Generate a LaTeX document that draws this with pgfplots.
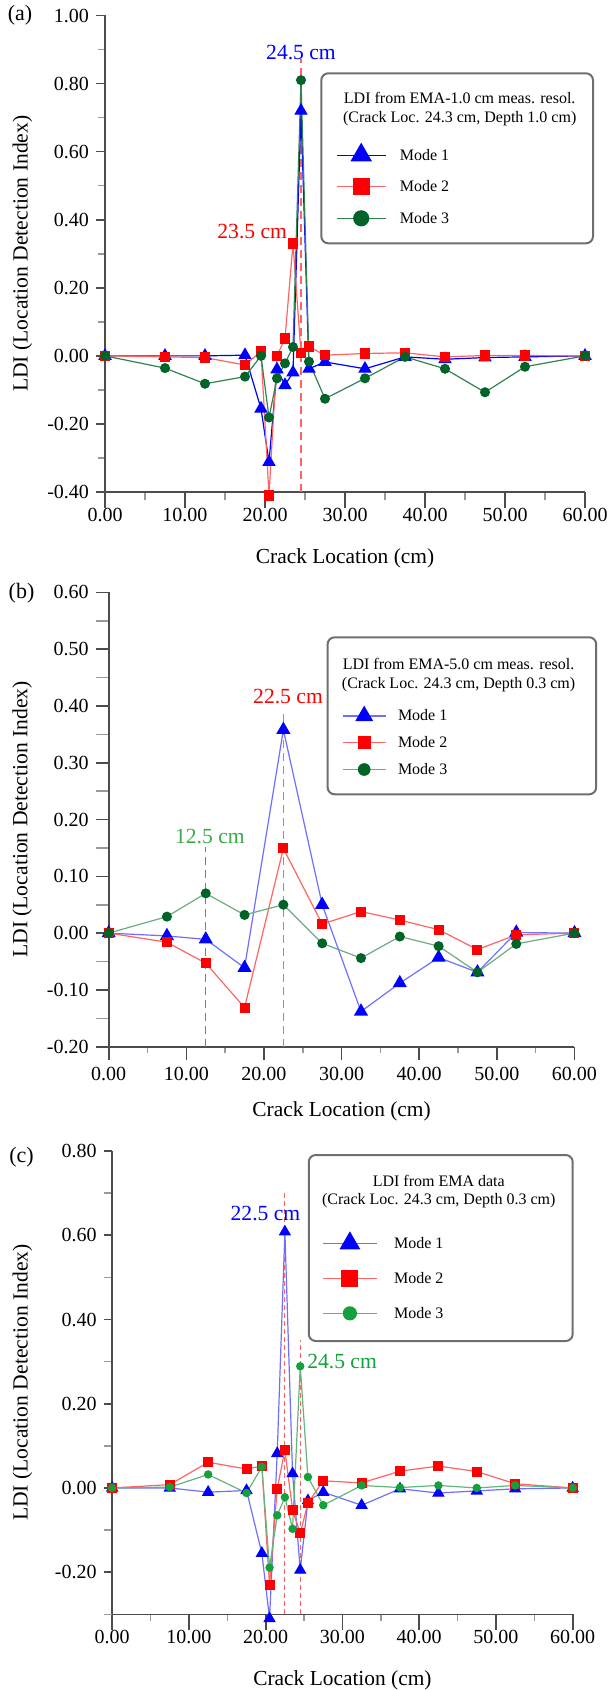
\documentclass[border=0pt]{standalone}
\usepackage{fontspec}
\setmainfont{Liberation Serif}
\usepackage{pgfplots}
\pgfplotsset{compat=1.18}

\definecolor{mblue}{RGB}{0,0,255}
\definecolor{lblue}{RGB}{110,110,255}
\definecolor{mred}{RGB}{255,0,0}
\definecolor{lred}{RGB}{255,100,100}
\definecolor{dgreen}{RGB}{0,100,40}
\definecolor{agreen}{RGB}{50,130,80}
\definecolor{bgreen}{RGB}{110,170,130}
\definecolor{cgreenm}{RGB}{20,160,60}
\definecolor{cgreenl}{RGB}{100,180,125}
\definecolor{dashred}{RGB}{255,100,100}
\definecolor{dashgreen}{RGB}{60,170,70}
\definecolor{boxgray}{RGB}{110,110,110}

\newcommand{\fs}[1]{\fontsize{#1}{1.15\dimexpr#1\relax}\selectfont}

\pgfplotsset{
  ldi/.style={
    scale only axis, clip=false,
    xmin=0, xmax=60,
    axis x line*=bottom, axis y line*=left,
    tick align=outside,
    axis line style={draw=black!70, line width=0.8pt},
    major tick style={draw=black!70, line width=0.8pt},
    minor tick style={draw=black!40, line width=0.8pt},
    xtick={0,10,...,60}, minor xtick={5,15,...,55},
    xticklabels={0.00,10.00,20.00,30.00,40.00,50.00,60.00},
    tick label style={font=\fs{10pt}},
    xlabel={Crack Location (cm)},
    ylabel={LDI (Location Detection Index)},
    legend cell align=left,
  },
  mode line/.style={line width=0.6pt},
}

\begin{document}
\begin{tikzpicture}
\useasboundingbox (0,0) rectangle (306.5pt,-845pt);

% ---------------- (a) ----------------
\node[font=\fs{11pt}] at (10pt,-7.5pt) {(a)};
\begin{axis}[ldi,
  at={(52.5pt,-246pt)}, anchor=south west,
  width=240pt, height=238.25pt,
  ymin=-0.4, ymax=1.0,
  ytick={-0.4,-0.2,0,0.2,0.4,0.6,0.8,1.0},
  yticklabels={-0.40,-0.20,0.00,0.20,0.40,0.60,0.80,1.00},
  minor ytick={-0.3,-0.1,0.1,0.3,0.5,0.7,0.9},
  major tick length=4.5pt, minor tick length=3.5pt,
  xtick style={/pgfplots/major tick length=8pt,/pgfplots/minor tick length=4pt},
  xlabel style={at={(axis description cs:0.5,-0.1385)}, anchor=center, font=\fs{10.7pt}},
  ylabel style={at={(axis description cs:-0.1719,0.5)}, anchor=center, font=\fs{10.8pt}},
  legend style={at={(rel axis cs:0.4817,0.6407)}, anchor=west, draw=none, fill=none,
    inner sep=0pt, outer sep=0pt, row sep=0pt, column sep=6.85pt, font=\fs{8pt},
    nodes={inner xsep=0pt, inner ysep=4.4pt, text height=6pt, text depth=1pt}},
  legend image code/.code={\draw[mark repeat=2,mark phase=2,every mark/.append style={scale=1.7}]
    plot coordinates {(0pt,0pt) (12.2pt,0pt) (24.4pt,0pt)};},
]
\addplot[dashred, line width=0.7pt, dash pattern=on 4pt off 2.5pt, forget plot]
  coordinates {(24.5,-0.4) (24.5,0.871)};
\addplot[mblue, mode line, mark=triangle*, mark size=3.3pt, mark options={solid, fill=mblue, draw=mblue}]
  coordinates {(0,0) (7.5,0) (12.5,0) (17.5,0.002) (19.5,-0.155) (20.5,-0.312) (21.5,-0.040)
    (22.5,-0.086) (23.5,-0.049) (24.5,0.72) (25.5,-0.038) (27.5,-0.018) (32.5,-0.038)
    (37.5,-0.003) (42.5,-0.010) (47.5,-0.005) (52.5,-0.003) (60,0)};
\addlegendentry{Mode 1}
\addplot[lred, mode line, mark=square*, mark size=2.3pt, mark options={solid, fill=mred, draw=mred}]
  coordinates {(0,0) (7.5,-0.003) (12.5,-0.005) (17.5,-0.027) (19.5,0.013) (20.5,-0.41) (21.5,0.0)
    (22.5,0.051) (23.5,0.33) (24.5,0.008) (25.5,0.027) (27.5,0.002) (32.5,0.007)
    (37.5,0.009) (42.5,-0.003) (47.5,0.001) (52.5,0.001) (60,0)};
\addlegendentry{Mode 2}
\addplot[agreen, mode line, mark=*, mark size=2.2pt, mark options={solid, fill=dgreen, draw=dgreen}]
  coordinates {(0,0) (7.5,-0.036) (12.5,-0.082) (17.5,-0.061) (19.5,0.0) (20.5,-0.181) (21.5,-0.066)
    (22.5,-0.022) (23.5,0.026) (24.5,0.81) (25.5,-0.017) (27.5,-0.126) (32.5,-0.066)
    (37.5,-0.003) (42.5,-0.038) (47.5,-0.107) (52.5,-0.032) (60,0)};
\addlegendentry{Mode 3}
\node[font=\fs{10.8pt}, text=mblue] at (axis cs:24.5,0.892) {24.5 cm};
\node[font=\fs{10.8pt}, text=mred] at (axis cs:18.4,0.365) {23.5 cm};
\draw[boxgray, line width=1pt, rounded corners=3.5pt]
  (rel axis cs:0.4506,0.5219) rectangle (rel axis cs:1.0167,0.8787);
\node[align=center, font=\fontsize{8pt}{9.5pt}\selectfont] at (rel axis cs:0.739,0.8027)
  {LDI from EMA-1.0 cm meas. resol.\\(Crack Loc. 24.3 cm, Depth 1.0 cm)};
\end{axis}

% ---------------- (b) ----------------
\node[font=\fs{11pt}] at (10.75pt,-296.65pt) {(b)};
\begin{axis}[ldi,
  at={(54.35pt,-523.35pt)}, anchor=south west,
  width=232.9pt, height=227.2pt,
  ymin=-0.2, ymax=0.6,
  ytick={-0.2,-0.1,0,0.1,0.2,0.3,0.4,0.5,0.6},
  yticklabels={-0.20,-0.10,0.00,0.10,0.20,0.30,0.40,0.50,0.60},
  minor ytick={-0.15,-0.05,0.05,0.15,0.25,0.35,0.45,0.55},
  major tick length=6.5pt, minor tick length=6.5pt,
  xtick style={/pgfplots/major tick length=6.5pt,/pgfplots/minor tick length=3pt},
  xlabel style={at={(axis description cs:0.5,-0.1417)}, anchor=center, font=\fs{10.7pt}},
  ylabel style={at={(axis description cs:-0.1859,0.5)}, anchor=center, font=\fs{10.8pt}},
  legend style={at={(rel axis cs:0.5011,0.669)}, anchor=west, draw=none, fill=none,
    inner sep=0pt, outer sep=0pt, row sep=0pt, column sep=5.85pt, font=\fs{8pt},
    nodes={inner xsep=0pt, inner ysep=3.2pt, text height=6pt, text depth=1pt}},
  legend image code/.code={\draw[mark repeat=2,mark phase=2,every mark/.append style={scale=1.3}]
    plot coordinates {(0pt,0pt) (10.75pt,0pt) (21.5pt,0pt)};},
]
\addplot[dashred, line width=0.7pt, dash pattern=on 4pt off 2.5pt, forget plot]
  coordinates {(22.5,-0.2) (22.5,0.388)};
\addplot[dashgreen, line width=0.7pt, dash pattern=on 4pt off 2.5pt, forget plot]
  coordinates {(12.5,-0.2) (12.5,0.152)};
\addplot[lblue, mode line, mark=triangle*, mark size=3.5pt, mark options={solid, fill=mblue, draw=mblue}]
  coordinates {(0,0) (7.5,-0.005) (12.5,-0.011) (17.5,-0.061) (22.5,0.358) (27.5,0.050)
    (32.5,-0.138) (37.5,-0.088) (42.5,-0.043) (47.5,-0.069) (52.5,0.001) (60,0)};
\addlegendentry{Mode 1}
\addplot[lred, mode line, mark=square*, mark size=2.2pt, mark options={solid, fill=mred, draw=mred}]
  coordinates {(0,0) (7.5,-0.016) (12.5,-0.053) (17.5,-0.131) (22.5,0.149) (27.5,0.016)
    (32.5,0.038) (37.5,0.023) (42.5,0.006) (47.5,-0.029) (52.5,-0.003) (60,0)};
\addlegendentry{Mode 2}
\addplot[bgreen, mode line, mark=*, mark size=2.2pt, mark options={solid, fill=dgreen, draw=dgreen}]
  coordinates {(0,0) (7.5,0.029) (12.5,0.070) (17.5,0.032) (22.5,0.050) (27.5,-0.018)
    (32.5,-0.044) (37.5,-0.006) (42.5,-0.023) (47.5,-0.069) (52.5,-0.019) (60,0)};
\addlegendentry{Mode 3}
\node[font=\fs{10.8pt}, text=mred] at (axis cs:23.1,0.416) {22.5 cm};
\node[font=\fs{10.8pt}, text=dashgreen] at (axis cs:13.04,0.170) {12.5 cm};
\draw[boxgray, line width=1pt, rounded corners=3.5pt]
  (rel axis cs:0.470,0.5555) rectangle (rel axis cs:1.0466,0.901);
\node[align=center, font=\fontsize{8pt}{9.2pt}\selectfont] at (rel axis cs:0.7512,0.8183)
  {LDI from EMA-5.0 cm meas. resol.\\(Crack Loc. 24.3 cm, Depth 0.3 cm)};
\end{axis}

% ---------------- (c) ----------------
\node[font=\fs{11pt}] at (10.75pt,-578.35pt) {(c)};
\begin{axis}[ldi,
  at={(56.1pt,-807.15pt)}, anchor=south west,
  width=230.25pt, height=231.65pt,
  ymin=-0.3, ymax=0.8,
  ytick={-0.2,0,0.2,0.4,0.6,0.8},
  yticklabels={-0.20,0.00,0.20,0.40,0.60,0.80},
  minor ytick={-0.3,-0.1,0.1,0.3,0.5,0.7},
  major tick length=4.3pt, minor tick length=4.3pt,
  xtick style={/pgfplots/major tick length=7.8pt,/pgfplots/minor tick length=3.5pt},
  xlabel style={at={(axis description cs:0.5,-0.1425)}, anchor=center, font=\fs{10.7pt}},
  ylabel style={at={(axis description cs:-0.1948,0.5)}, anchor=center, font=\fs{10.8pt}},
  legend style={at={(rel axis cs:0.4567,0.7252)}, anchor=west, draw=none, fill=none,
    inner sep=0pt, outer sep=0pt, row sep=0pt, column sep=8.4pt, font=\fs{8pt},
    nodes={inner xsep=0pt, inner ysep=5.25pt, text height=6pt, text depth=1pt}},
  legend image code/.code={\draw[mark repeat=2,mark phase=2,every mark/.append style={scale=1.8}]
    plot coordinates {(0pt,0pt) (13.4pt,0pt) (26.8pt,0pt)};},
]
\addplot[dashred, line width=0.6pt, dash pattern=on 2.5pt off 1.5pt, forget plot]
  coordinates {(22.5,-0.3) (22.5,0.70)};
\addplot[dashred, line width=0.6pt, dash pattern=on 2.5pt off 1.5pt, forget plot]
  coordinates {(24.5,-0.3) (24.5,0.351)};
\addplot[lblue, mode line, mark=triangle*, mark size=3.0pt, mark options={solid, fill=mblue, draw=mblue}]
  coordinates {(0,0) (7.5,0) (12.5,-0.010) (17.5,-0.006) (19.5,-0.155) (20.5,-0.310) (21.5,0.082)
    (22.5,0.608) (23.5,0.034) (24.5,-0.195) (25.5,-0.030) (27.5,-0.010) (32.5,-0.041)
    (37.5,-0.002) (42.5,-0.012) (47.5,-0.007) (52.5,-0.002) (60,0)};
\addlegendentry{Mode 1}
\addplot[lred, mode line, mark=square*, mark size=2.2pt, mark options={solid, fill=mred, draw=mred}]
  coordinates {(0,0) (7.5,0.008) (12.5,0.061) (17.5,0.045) (19.5,0.052) (20.5,-0.231) (21.5,-0.002)
    (22.5,0.090) (23.5,-0.052) (24.5,-0.108) (25.5,-0.036) (27.5,0.017) (32.5,0.012)
    (37.5,0.040) (42.5,0.052) (47.5,0.039) (52.5,0.010) (60,0)};
\addlegendentry{Mode 2}
\addplot[cgreenl, mode line, mark=*, mark size=1.8pt, mark options={solid, fill=cgreenm, draw=cgreenm}]
  coordinates {(0,0) (7.5,0.002) (12.5,0.032) (17.5,-0.012) (19.5,0.050) (20.5,-0.189) (21.5,-0.065)
    (22.5,-0.022) (23.5,-0.097) (24.5,0.289) (25.5,0.026) (27.5,-0.041) (32.5,0.006)
    (37.5,0.001) (42.5,0.006) (47.5,0.000) (52.5,0.006) (60,0)};
\addlegendentry{Mode 3}
\node[font=\fs{10.8pt}, text=mblue] at (axis cs:19.97,0.652) {22.5 cm};
\node[font=\fs{10.8pt}, text=cgreenm, anchor=west, inner xsep=0pt] at (axis cs:25.37,0.30) {24.5 cm};
\draw[boxgray, line width=1pt, rounded corners=3.5pt]
  (rel axis cs:0.4269,0.5899) rectangle (rel axis cs:1.0,0.9914);
\node[align=center, font=\fontsize{8pt}{9.4pt}\selectfont] at (rel axis cs:0.7092,0.9123)
  {LDI from EMA data\\(Crack Loc. 24.3 cm, Depth 0.3 cm)};
\end{axis}
\end{tikzpicture}
\end{document}
